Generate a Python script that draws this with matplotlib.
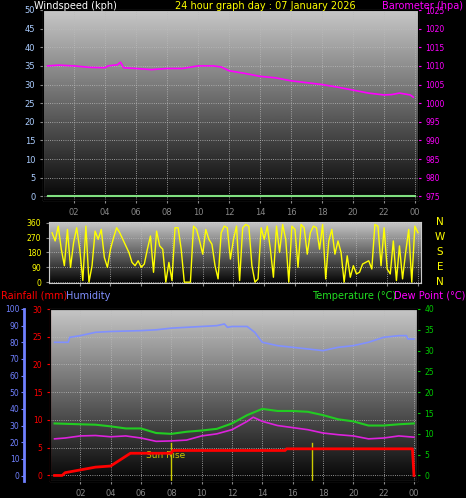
import numpy as np
import matplotlib
matplotlib.use("Agg")
import matplotlib.pyplot as plt

hours_ticks = [2,4,6,8,10,12,14,16,18,20,22,24]
hour_labels = ["02","04","06","08","10","12","14","16","18","20","22","00"]

baro_t = [0.3,1,2,3,4,4.2,4.8,5,5.2,6,7,8,9,10,11,11.5,12,13,14,15,16,17,18,19,20,21,22,22.5,23,23.7,23.9]
baro_v = [1010,1010.2,1010,1009.6,1009.5,1010,1010.3,1011,1009.5,1009.3,1009,1009.3,1009.3,1010,1010,1009.7,1008.7,1008,1007.2,1006.8,1006,1005.5,1005,1004.3,1003.5,1002.7,1002.2,1002.3,1002.7,1002.2,1001.6]
wind_t = [0.3, 24]
wind_v = [0, 0]

dir_t = np.linspace(0.2, 24, 120)
dir_v = [300,250,340,200,100,320,90,240,330,200,10,340,0,100,310,260,320,150,90,200,270,330,300,260,220,180,120,100,130,90,110,200,280,60,310,220,200,0,120,10,330,330,200,0,0,0,340,320,250,170,320,260,230,100,20,300,340,330,140,260,340,10,330,350,340,100,0,20,330,260,340,200,30,340,180,350,260,0,340,320,90,350,330,170,300,340,330,200,350,20,250,320,170,250,180,0,160,30,100,50,60,110,120,130,80,350,340,100,330,80,50,250,10,220,20,180,320,0,340,300]

hum_t = [0.3,1.2,1.3,2,3,4,6,7,8,9,10,11,11.5,11.7,12,13,13.5,14,15,16,17,18,19,20,21,22,23,23.5,23.6,24]
hum_v = [80,80,83,84,86,86.5,87,87.5,88.5,89,89.5,90,91,89,89.5,89.5,86,80,78,77,76,75,77,78,80,83,84,84,82,82]
temp_t = [0.3,2,3,4,5,6,7,8,9,10,11,12,13,14,15,16,17,18,19,20,21,22,23,24]
temp_v = [12.5,12.3,12.2,11.8,11.3,11.3,10.2,10,10.5,10.8,11.2,12.5,14.5,16,15.5,15.5,15.3,14.5,13.5,13,12,12,12.3,12.5]
dew_t = [0.3,1,2,3,4,5,6,7,8,9,10,11,12,13,13.4,14,15,16,17,18,19,20,21,22,23,24]
dew_v = [8.8,9,9.5,9.6,9.3,9.5,9,8.2,8.3,8.5,9.5,10,11,13,14,13,12,11.5,11,10.2,9.8,9.5,8.8,9,9.5,9.2]
rain_t = [0.3,0.8,1,2,3,4,5.3,8,8.1,15.5,15.6,23.9,24]
rain_v = [0,0,0.5,1,1.5,1.7,4,4,4.5,4.5,4.8,4.8,0]
sunrise, sunset = 8.0, 17.3

fig = plt.figure(figsize=(4.66,4.98), dpi=100, facecolor="black")
W,H = 466,498
def ax_at(x0,y0,x1,y1):
    return fig.add_axes([x0/W, 1-y1/H, (x1-x0)/W, (y1-y0)/H])

grad = np.linspace(0.78,0.02,256).reshape(-1,1)
def style(ax, xlab=True):
    ax.set_facecolor("black")
    ax.imshow(grad, cmap="gray", vmin=0, vmax=1, aspect="auto", extent=[0,24.2,0,1],
              transform=ax.get_xaxis_transform(), zorder=0)
    ax.set_xlim(0,24.2)
    ax.set_xticks(hours_ticks)
    ax.set_xticklabels(hour_labels if xlab else [], color="yellow", fontsize=6)
    ax.grid(True, color="#bbbbbb", linestyle=":", linewidth=0.6)
    for s in ax.spines.values():
        s.set_color("#cccccc")
    ax.tick_params(colors="#888888", length=2, labelsize=6)

# top
a1 = ax_at(43,10,418,200)
style(a1)
a1.set_ylim(-1,50); a1.set_yticks(range(0,51,5))
a1.tick_params(axis="y", labelcolor="#aaccff")
a1.plot(wind_t, wind_v, color="#80e080", lw=1.5)
b1 = a1.twinx(); b1.set_ylim(974,1025); b1.set_yticks(range(975,1026,5))
b1.tick_params(axis="y", labelcolor="magenta", colors="magenta", length=2, labelsize=5.5)
b1.plot(baro_t, baro_v, color="magenta", lw=1.2)
fig.text(34/W, 1-6/H, "Windspeed (kph)", color="white", fontsize=7, va="center")
fig.text(265/W, 1-6/H, "24 hour graph day : 07 January 2026", color="yellow", fontsize=7, va="center", ha="center")
fig.text(463/W, 1-6/H, "Barometer (hpa)", color="magenta", fontsize=7, va="center", ha="right")

# middle
a2 = ax_at(49,222,421,283)
style(a2, xlab=False)
a2.set_ylim(-5,365); a2.set_yticks([0,90,180,270,360])
a2.tick_params(axis="y", labelcolor="yellow", labelsize=5.5)
a2.plot(dir_t, dir_v, color="yellow", lw=1)
for i,c in enumerate("NWSEN"):
    fig.text(440/W, 1-(222+i*15)/H, c, color="yellow", fontsize=7.5, ha="center", va="center")

# bottom
a3 = ax_at(50,309,417,481)
style(a3)
a3.set_ylim(-1,30); a3.set_yticks(range(0,31,5))
a3.tick_params(axis="y", labelcolor="red", colors="red", labelsize=5.5)
a3.spines["left"].set_color("red")
a3.plot(rain_t, rain_v, color="red", lw=2, zorder=4)
a3.axvline(sunrise, ymax=0.22, color="#cccc00", lw=1)
a3.axvline(sunset, ymax=0.22, color="#cccc00", lw=1)
a3.text(6.3, 3.2, "Sun Rise", color="#cccc00", fontsize=6.5)
h3 = a3.twinx(); h3.set_ylim(-3.3,100)
h3.yaxis.set_ticks_position("left"); h3.spines["left"].set_position(("outward", 19))
h3.spines["left"].set_color("#7080ff"); h3.spines["left"].set_linewidth(2)
h3.set_yticks(range(0,101,10)); h3.tick_params(axis="y", colors="#7080ff", labelsize=5.5, length=2, pad=1)
h3.plot(hum_t, hum_v, color="#8090ff", lw=1.2)
t3 = a3.twinx(); t3.set_ylim(-1.33,40); t3.set_yticks(range(0,41,5))
t3.tick_params(axis="y", colors="#00cc00", labelsize=5.5, length=2)
t3.plot(temp_t, temp_v, color="#22cc22", lw=1.5)
t3.plot(dew_t, dew_v, color="#dd22dd", lw=1.2)
fig.text(1/W, 1-296/H, "Rainfall (mm)", color="red", fontsize=7, va="center")
fig.text(66/W, 1-296/H, "Humidity", color="#8090ff", fontsize=7, va="center")
fig.text(312/W, 1-296/H, "Temperature (°C)", color="#22dd22", fontsize=7, va="center")
fig.text(465/W, 1-296/H, "Dew Point (°C)", color="magenta", fontsize=7, va="center", ha="right")

fig.savefig("out.png", dpi=100, facecolor="black")
